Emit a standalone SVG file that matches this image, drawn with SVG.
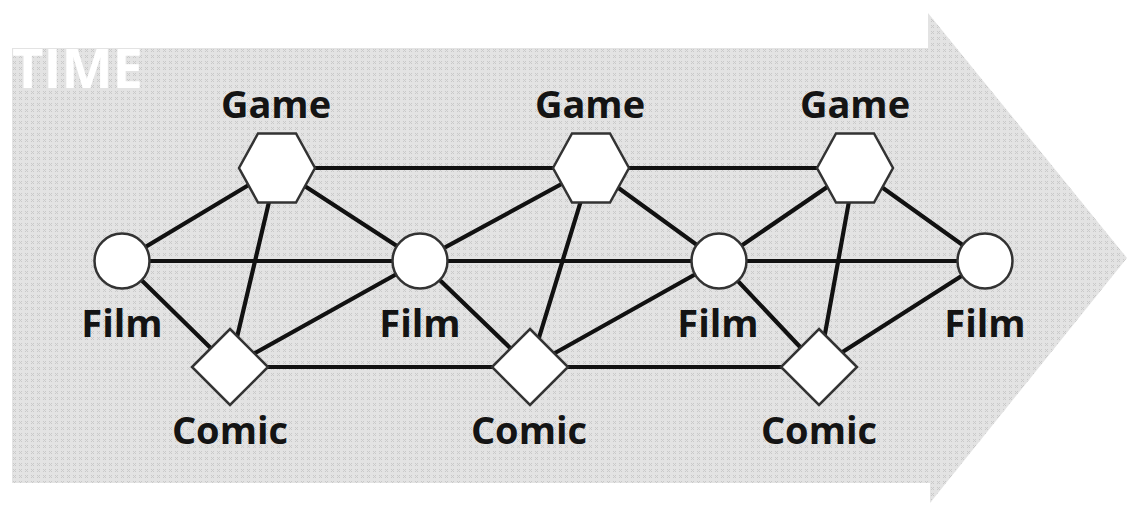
<svg xmlns="http://www.w3.org/2000/svg" width="1129" height="506" viewBox="0 0 1129 506">
  <style>
    .edge { stroke: #111; stroke-width: 4.2; fill: none; stroke-linecap: round; }
    .node { fill: #fff; stroke: #333; stroke-width: 2.5; }
    .lbl { font-family: "Open Sans", "Noto Sans", "DejaVu Sans", sans-serif; font-weight: 700; font-size: 38px; fill: #141414; text-anchor: middle; }
    .time { font-family: "Open Sans", "Noto Sans", "DejaVu Sans", sans-serif; font-weight: 700; font-size: 53px; fill: #fff; }
  </style>
  <defs>
    <pattern id="tex" width="6" height="6" patternUnits="userSpaceOnUse">
      <rect width="6" height="6" fill="#e3e3e3"/>
      <path d="M1 1L4 4M4 1L1 4" stroke="#c9c9c9" stroke-width="1"/>
    </pattern>
    <polygon id="hex" points="-38,0 -19,-34.5 19,-34.5 38,0 19,34.5 -19,34.5"/>
    <polygon id="dia" points="0,-38 38,0 0,38 -38,0"/>
  </defs>

  <rect width="1129" height="506" fill="#fff"/>
  <g id="time-arrow">
    <polygon points="12,48 928,48 928,13 1127,258 930,503 930,483 12,483" fill="url(#tex)"/>
    <text class="time" x="12" y="88" textLength="131" lengthAdjust="spacingAndGlyphs">TIME</text>
  </g>

  <g id="connectors">
    <line class="edge" x1="122" y1="261" x2="277" y2="168"/>
    <line class="edge" x1="122" y1="261" x2="420" y2="261"/>
    <line class="edge" x1="122" y1="261" x2="230" y2="367"/>
    <line class="edge" x1="277" y1="168" x2="230" y2="367"/>
    <line class="edge" x1="277" y1="168" x2="591" y2="168"/>
    <line class="edge" x1="277" y1="168" x2="420" y2="261"/>
    <line class="edge" x1="230" y1="367" x2="420" y2="261"/>
    <line class="edge" x1="230" y1="367" x2="530" y2="367"/>
    <line class="edge" x1="420" y1="261" x2="591" y2="168"/>
    <line class="edge" x1="420" y1="261" x2="719" y2="261"/>
    <line class="edge" x1="420" y1="261" x2="530" y2="367"/>
    <line class="edge" x1="591" y1="168" x2="530" y2="367"/>
    <line class="edge" x1="591" y1="168" x2="855" y2="168"/>
    <line class="edge" x1="591" y1="168" x2="719" y2="261"/>
    <line class="edge" x1="530" y1="367" x2="719" y2="261"/>
    <line class="edge" x1="530" y1="367" x2="819" y2="367"/>
    <line class="edge" x1="719" y1="261" x2="855" y2="168"/>
    <line class="edge" x1="719" y1="261" x2="985" y2="261"/>
    <line class="edge" x1="719" y1="261" x2="819" y2="367"/>
    <line class="edge" x1="855" y1="168" x2="819" y2="367"/>
    <line class="edge" x1="855" y1="168" x2="985" y2="261"/>
    <line class="edge" x1="819" y1="367" x2="985" y2="261"/>
  </g>

  <g id="game1"><use href="#hex" class="node" x="277" y="168"/><text class="lbl" x="276" y="118">Game</text></g>
  <g id="game2"><use href="#hex" class="node" x="591" y="168"/><text class="lbl" x="590" y="118">Game</text></g>
  <g id="game3"><use href="#hex" class="node" x="855" y="168"/><text class="lbl" x="855" y="118">Game</text></g>

  <g id="film1"><circle class="node" cx="122" cy="261" r="27.5"/><text class="lbl" x="122" y="337">Film</text></g>
  <g id="film2"><circle class="node" cx="420" cy="261" r="27.5"/><text class="lbl" x="420" y="337">Film</text></g>
  <g id="film3"><circle class="node" cx="719" cy="261" r="27.5"/><text class="lbl" x="718" y="337">Film</text></g>
  <g id="film4"><circle class="node" cx="985" cy="261" r="27.5"/><text class="lbl" x="985" y="337">Film</text></g>

  <g id="comic1"><use href="#dia" class="node" x="230" y="367"/><text class="lbl" x="230" y="444">Comic</text></g>
  <g id="comic2"><use href="#dia" class="node" x="530" y="367"/><text class="lbl" x="529" y="444">Comic</text></g>
  <g id="comic3"><use href="#dia" class="node" x="819" y="367"/><text class="lbl" x="819" y="444">Comic</text></g>
</svg>
